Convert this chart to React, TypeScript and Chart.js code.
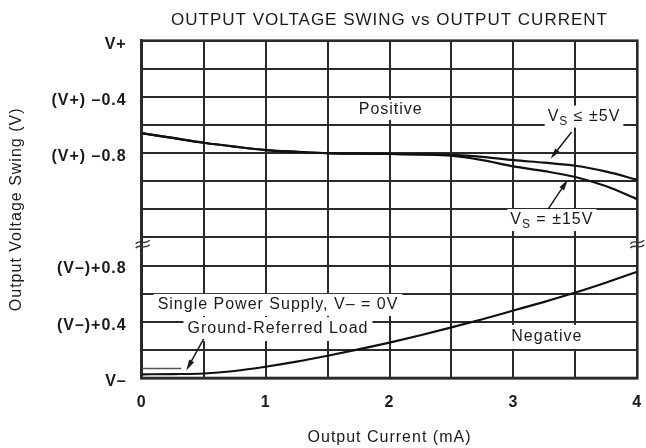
import React, { useEffect, useRef } from 'react';
import { Chart, registerables } from 'chart.js';

Chart.register(...registerables);

// ---- data ----
const currentMA = [0, 0.25, 0.5, 0.75, 1, 1.25, 1.5, 1.75, 2, 2.25, 2.5, 2.75, 3, 3.25, 3.5, 3.75, 4];
// y values are in grid units of 0.2 V: 0 = V–, 12 = V+
const positiveVs5 = [8.71, 8.54, 8.37, 8.23, 8.11, 8.05, 8.0, 7.98, 7.97, 7.96, 7.94, 7.87, 7.75, 7.66, 7.55, 7.34, 7.05];
const positiveVs15 = [8.71, 8.54, 8.37, 8.23, 8.11, 8.05, 8.0, 7.98, 7.97, 7.95, 7.91, 7.75, 7.53, 7.36, 7.15, 6.82, 6.36];
const negativeSwing = [0.13, 0.14, 0.16, 0.25, 0.4, 0.58, 0.79, 1.02, 1.26, 1.52, 1.8, 2.09, 2.4, 2.71, 3.04, 3.4, 3.78];
const singleSupplyX = [0, 0.32];
const singleSupplyY = [0.34, 0.34];

const yTickValues = [0, 2, 4, 8, 10, 12];
const yTickText = ['V–', '(V–)+0.4', '(V–)+0.8', '(V+) –0.8', '(V+) –0.4', 'V+'];
const xTickValues = [0, 1, 2, 3, 4];

const TITLE = 'OUTPUT VOLTAGE SWING vs OUTPUT CURRENT';
const X_TITLE = 'Output Current (mA)';
const Y_TITLE = 'Output Voltage Swing (V)';

const FONT = '"Liberation Sans", Arial, Helvetica, sans-serif';
const INK = '#1a1a1a';
const GRID = '#2a2a2a';

type Part = { t: string; size: number; dy?: number; w?: number };

function drawParts(ctx: CanvasRenderingContext2D, parts: Part[], cx: number, cy: number, box?: { px: number; h: number }) {
  let w = 0;
  for (const p of parts) {
    ctx.font = `${p.size}px ${FONT}`;
    p.w = ctx.measureText(p.t).width;
    w += p.w;
  }
  const x0 = cx - w / 2;
  if (box) {
    ctx.fillStyle = '#fff';
    ctx.fillRect(x0 - box.px, cy - box.h / 2, w + 2 * box.px, box.h);
  }
  ctx.fillStyle = INK;
  ctx.textBaseline = 'middle';
  ctx.textAlign = 'left';
  let x = x0;
  for (const p of parts) {
    ctx.font = `${p.size}px ${FONT}`;
    ctx.fillText(p.t, x, cy + (p.dy || 0));
    x += p.w || 0;
  }
}

function arrow(ctx: CanvasRenderingContext2D, x1: number, y1: number, x2: number, y2: number) {
  const a = Math.atan2(y2 - y1, x2 - x1);
  const L = 11;
  const W = 2.8;
  ctx.strokeStyle = INK;
  ctx.fillStyle = INK;
  ctx.lineWidth = 1.5;
  ctx.beginPath();
  ctx.moveTo(x1, y1);
  ctx.lineTo(x2 - L * 0.7 * Math.cos(a), y2 - L * 0.7 * Math.sin(a));
  ctx.stroke();
  ctx.beginPath();
  ctx.moveTo(x2, y2);
  ctx.lineTo(x2 - L * Math.cos(a) + W * Math.sin(a), y2 - L * Math.sin(a) - W * Math.cos(a));
  ctx.lineTo(x2 - L * Math.cos(a) - W * Math.sin(a), y2 - L * Math.sin(a) + W * Math.cos(a));
  ctx.closePath();
  ctx.fill();
}

function breakMark(ctx: CanvasRenderingContext2D, cx: number, cy: number) {
  ctx.strokeStyle = '#333';
  ctx.lineWidth = 1.3;
  for (const off of [-2.2, 2.2]) {
    ctx.beginPath();
    ctx.moveTo(cx - 7, cy + off + 1.5);
    ctx.bezierCurveTo(cx - 3, cy + off - 4, cx + 1, cy + off + 4, cx + 7, cy + off - 2);
    ctx.stroke();
  }
}

const spacingPlugin = {
  id: 'spacing',
  beforeUpdate(chart: any) {
    (chart.ctx as any).letterSpacing = '1px';
  },
  beforeDraw(chart: any) {
    (chart.ctx as any).letterSpacing = '1px';
  },
};

// frame + vertical grid lines at the x scale's ticks
const framePlugin = {
  id: 'frame',
  beforeDatasetsDraw(chart: any) {
    const { ctx, chartArea: c } = chart;
    const xs = chart.scales.x;
    ctx.save();
    ctx.strokeStyle = GRID;
    ctx.lineWidth = 2;
    xs.ticks.forEach((_t: any, i: number) => {
      const px = Math.round(xs.getPixelForTick(i) - 1) + 1;
      ctx.beginPath();
      ctx.moveTo(px, c.top);
      ctx.lineTo(px, c.bottom);
      ctx.stroke();
    });
    ctx.lineWidth = 2.6;
    ctx.strokeRect(c.left, c.top, c.right - c.left, c.bottom - c.top);
    ctx.restore();
  },
};

const annotationPlugin = {
  id: 'annotations',
  afterDatasetsDraw(chart: any) {
    const { ctx, chartArea: c } = chart;
    const xs = chart.scales.x;
    const ys = chart.scales.y;
    const X = (v: number) => xs.getPixelForValue(v);
    const Y = (v: number) => ys.getPixelForValue(v);
    ctx.save();
    (ctx as any).letterSpacing = '1px';

    // chart title
    drawParts(ctx, [{ t: TITLE, size: 17 }], (c.left + c.right) / 2, 20);

    // labels with white backing
    drawParts(ctx, [{ t: 'Positive', size: 16 }], X(2.01), Y(9.54), { px: 3, h: 20 });
    drawParts(ctx, [{ t: 'V', size: 16 }, { t: 'S', size: 12, dy: 5 }, { t: ' ≤ ±5V', size: 16 }], X(3.57), Y(9.3), { px: 3, h: 22 });
    drawParts(ctx, [{ t: 'V', size: 16 }, { t: 'S', size: 12, dy: 5 }, { t: ' = ±15V', size: 16 }], X(3.31), Y(5.62), { px: 3, h: 22 });
    drawParts(ctx, [{ t: 'Negative', size: 16 }], X(3.27), Y(1.46), { px: 3, h: 24 });
    drawParts(ctx, [{ t: 'Single Power Supply, V– = 0V', size: 16 }], X(1.1), Y(2.6), { px: 4, h: 22 });
    drawParts(ctx, [{ t: 'Ground-Referred Load', size: 16 }], X(1.1), Y(1.74), { px: 4, h: 24 });

    // arrows
    arrow(ctx, X(3.47), Y(8.75), X(3.3), Y(7.8));
    arrow(ctx, X(3.28), Y(6.01), X(3.44), Y(7.06));
    arrow(ctx, X(0.5), Y(1.39), X(0.36), Y(0.27));

    // axis break marks
    breakMark(ctx, c.left + 1, Y(4.75));
    breakMark(ctx, c.right, Y(4.75));
    ctx.restore();
  },
};

export default function App() {
  const ref = useRef<HTMLCanvasElement | null>(null);

  useEffect(() => {
    if (!ref.current) return;
    const pts = (xv: number[], yv: number[]) => xv.map((x, i) => ({ x, y: yv[i] }));
    const lineStyle = {
      borderColor: '#111',
      borderWidth: 2.2,
      pointRadius: 0,
      fill: false,
      cubicInterpolationMode: 'monotone' as const,
    };
    const chart = new Chart(ref.current, {
      type: 'scatter',
      data: {
        datasets: [
          { label: 'VS ≤ ±5V', data: pts(currentMA, positiveVs5), showLine: true, ...lineStyle },
          { label: 'VS = ±15V', data: pts(currentMA, positiveVs15), showLine: true, ...lineStyle },
          { label: 'Negative', data: pts(currentMA, negativeSwing), showLine: true, ...lineStyle },
          { label: 'Single supply', data: pts(singleSupplyX, singleSupplyY), showLine: true, ...lineStyle, borderColor: '#555', borderWidth: 1.6 },
        ],
      },
      options: {
        animation: false,
        responsive: false,
        events: [],
        layout: { padding: { left: 0, right: 8.7, top: 40.7, bottom: 0 } },
        plugins: { legend: { display: false }, tooltip: { enabled: false }, title: { display: false } },
        scales: {
          x: {
            type: 'linear',
            min: 0,
            max: 4,
            afterFit: (s: any) => {
              s.height = 70;
            },
            grid: { display: true, drawOnChartArea: true, color: GRID, lineWidth: 2, drawTicks: true, tickLength: 12, tickColor: 'rgba(0,0,0,0)' },
            border: { display: true, color: GRID, width: 2.6 },
            ticks: {
              stepSize: 0.5,
              autoSkip: false,
              maxRotation: 0,
              padding: 3,
              color: INK,
              font: { family: FONT, size: 16, weight: 'bold' },
              callback: (v: any) => (xTickValues.includes(Number(v)) ? String(v) : ''),
            },
            title: {
              display: true,
              text: X_TITLE,
              color: INK,
              font: { family: FONT, size: 16 },
              padding: { top: 0, bottom: 1 },
            },
          },
          y: {
            type: 'linear',
            min: 0,
            max: 12,
            afterFit: (s: any) => {
              s.width = 141.7;
            },
            grid: { display: true, drawOnChartArea: true, color: GRID, lineWidth: 2, drawTicks: true, tickLength: 12, tickColor: 'rgba(0,0,0,0)' },
            border: { display: true, color: GRID, width: 2.6 },
            ticks: {
              stepSize: 1,
              autoSkip: false,
              padding: 3,
              labelOffset: 3.5,
              color: INK,
              font: { family: FONT, size: 16, weight: 'bold' },
              callback: (v: any) => {
                const i = yTickValues.indexOf(Number(v));
                return i >= 0 ? yTickText[i] : '';
              },
            },
            title: {
              display: true,
              text: Y_TITLE,
              color: INK,
              font: { family: FONT, size: 16 },
              padding: { top: 7, bottom: 0 },
            },
          },
        },
      },
      plugins: [spacingPlugin, framePlugin, annotationPlugin],
    });
    return () => chart.destroy();
  }, []);

  return (
    <div style={{ position: 'absolute', left: 0, top: 0, width: 646, height: 448, background: '#fff' }}>
      <canvas ref={ref} width={646} height={448} />
    </div>
  );
}
